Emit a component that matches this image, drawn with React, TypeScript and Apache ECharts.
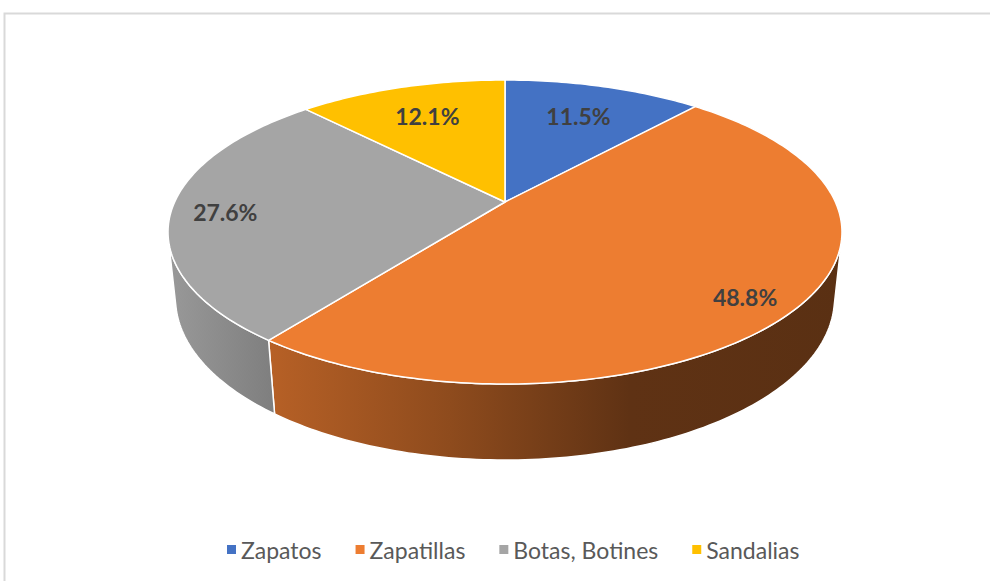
import React, { useEffect, useRef } from 'react';
import * as echarts from 'echarts';

const categories = ['Zapatos', 'Zapatillas', 'Botas, Botines', 'Sandalias'];
const values = [11.5, 48.8, 27.6, 12.1];
const colors = ['#4472C4', '#ED7D31', '#A5A5A5', '#FFC000'];

// perspective projection parameters for the 3D pie
const CX = 505;
const CY = 202;
const K = 1501.6;
const R = 0.22;
const SIN_A = 0.4422;
const COS_A = 0.897;
const H = 0.0495;

// side-wall brightness factors across the screen (x, factor)
const shadeStops: [number, number][] = [
  [168, 0.93],
  [272, 0.77],
  [450, 0.6],
  [630, 0.4],
  [845, 0.38],
];

function project(theta: number, r: number, y: number): [number, number] {
  const X = r * Math.sin(theta);
  const Z = -r * Math.cos(theta);
  const depth = 1 - (y * SIN_A + Z * COS_A);
  const yp = y * COS_A - Z * SIN_A;
  return [CX + (K * X) / depth, CY - (K * yp) / depth];
}

function shade(hex: string, f: number): string {
  const n = parseInt(hex.slice(1), 16);
  const r = Math.round(((n >> 16) & 255) * f);
  const g = Math.round(((n >> 8) & 255) * f);
  const b = Math.round((n & 255) * f);
  return `rgb(${r},${g},${b})`;
}

function arcPoints(a0: number, a1: number, y: number): [number, number][] {
  const steps = Math.max(2, Math.ceil((Math.abs(a1 - a0) * 180) / Math.PI));
  const pts: [number, number][] = [];
  for (let s = 0; s <= steps; s++) {
    const t = a0 + ((a1 - a0) * s) / steps;
    pts.push(project(t, R, y));
  }
  return pts;
}

const total = values.reduce((a, b) => a + b, 0);

function renderSlice(params: any, api: any) {
  const i = params.seriesIndex;
  let before = 0;
  for (let j = 0; j < i; j++) before += values[j];
  const v = api.value(0);
  const share = v / total;
  const a0 = (before / total) * Math.PI * 2;
  const a1 = ((before + v) / total) * Math.PI * 2;
  const children: any[] = [];

  const W0 = Math.acos(-R / COS_A);
  const W1 = Math.PI * 2 - W0;
  const lo = Math.max(a0, W0);
  const hi = Math.min(a1, W1);
  if (lo < hi) {
    const topArc = arcPoints(lo, hi, 0);
    const botArc = arcPoints(hi, lo, -H);
    const x0 = shadeStops[0][0];
    const x1 = shadeStops[shadeStops.length - 1][0];
    const grad = new echarts.graphic.LinearGradient(
      x0,
      0,
      x1,
      0,
      shadeStops.map(([x, f]) => ({ offset: (x - x0) / (x1 - x0), color: shade(colors[i], f) })),
      true
    );
    children.push({
      type: 'polygon',
      shape: { points: topArc.concat(botArc) },
      style: { fill: grad, stroke: '#ffffff', lineWidth: 1.5, lineJoin: 'round' },
    });
  }

  const topPts = [project(0, 0, 0)].concat(arcPoints(a0, a1, 0));
  children.push({
    type: 'polygon',
    shape: { points: topPts },
    style: { fill: colors[i], stroke: '#ffffff', lineWidth: 1.5, lineJoin: 'round' },
  });

  const mid = (a0 + a1) / 2;
  const labelFrac = Math.min(0.84, 0.62 + share * 0.8);
  const yOff = Math.max(0, share - 0.15) * 25;
  const [lx, ly] = project(mid, R * labelFrac, 0);
  children.push({
    type: 'text',
    style: {
      text: (share * 100).toFixed(1) + '%',
      x: lx,
      y: ly + yOff,
      fill: '#404040',
      font: 'bold 23px Lato',
      align: 'center',
      verticalAlign: 'middle',
    },
  });

  return { type: 'group', children };
}

export default function App() {
  const ref = useRef<HTMLDivElement>(null);
  useEffect(() => {
    if (!ref.current) return;
    const chart = echarts.init(ref.current, null, { renderer: 'svg' });
    chart.setOption({
      animation: false,
      backgroundColor: '#ffffff',
      graphic: [
        {
          type: 'rect',
          silent: true,
          shape: { x: 4.5, y: 13.5, width: 1200, height: 900 },
          style: { fill: 'none', stroke: '#d9d9d9', lineWidth: 2 },
        },
      ],
      legend: {
        left: 222,
        top: 533,
        icon: 'rect',
        itemWidth: 9,
        itemHeight: 9,
        itemGap: 34,
        textStyle: { fontSize: 23, color: '#595959', fontFamily: 'Lato' },
        data: categories,
      },
      series: categories.map((name, i) => ({
        type: 'custom',
        name,
        coordinateSystem: 'none',
        renderItem: renderSlice,
        itemStyle: { color: colors[i] },
        data: [[values[i]]],
      })),
    });
    return () => chart.dispose();
  }, []);
  return (
    <div
      ref={ref}
      style={{ position: 'fixed', left: 0, top: 0, width: 990, height: 581, background: '#fff' }}
    />
  );
}
